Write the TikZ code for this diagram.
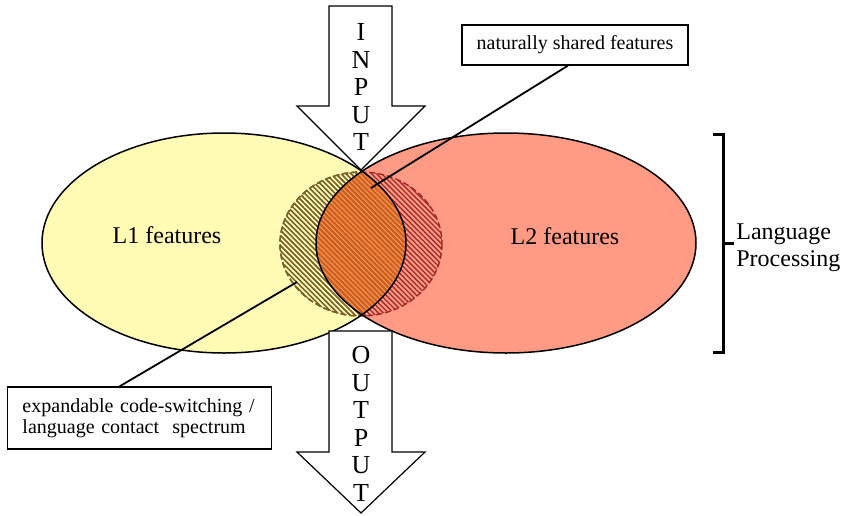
\documentclass[tikz,border=0pt]{standalone}
\usepackage{fontspec}
\setmainfont{Liberation Serif}
\usepackage{tikz}
\usetikzlibrary{patterns.meta}
\definecolor{lOneYellow}{RGB}{255,250,180}
\definecolor{lTwoRed}{RGB}{255,154,132}
\definecolor{lensOrange}{RGB}{246,138,66}
\definecolor{hatchOlive}{RGB}{110,105,40}
\definecolor{hatchRed}{RGB}{160,40,40}
\definecolor{hatchOrange}{RGB}{215,95,32}

\begin{document}
\begin{tikzpicture}[x=0.5pt,y=-0.5pt,
    outline/.style={draw=black,line width=0.75pt},
    hatch/.style={pattern={Lines[angle=-45,distance=1.8pt,line width=0.65pt]}},
    dashrim/.style={dash pattern=on 3pt off 1.5pt,line width=0.7pt},
    bigarrow/.style={draw=black,fill=white,line width=0.6pt},
    callout/.style={draw=black,fill=white,line width=0.7pt,font=\fontsize{10}{10.5}\selectfont},
    arrowtext/.style={align=center,inner sep=0pt,font=\fontsize{13}{13.75}\selectfont},
    feat/.style={anchor=base,font=\fontsize{12}{14}\selectfont}]
      \useasboundingbox (0,0) rectangle (842,515);
      \fill[lOneYellow] (224,243) ellipse (182 and 110);
      \fill[lTwoRed] (506,243) ellipse (190 and 110);
      \begin{scope}
        \clip (224,243) ellipse (182 and 110);
        \fill[lensOrange] (506,243) ellipse (190 and 110);
      \end{scope}
      \fill[hatch,pattern color=hatchRed] (361,244) ellipse (81 and 72);
      \draw[dashrim,hatchRed] (361,244) ellipse (81 and 72);
      \begin{scope}
        \clip (224,243) ellipse (182 and 110);
        \fill[hatch,pattern color=hatchOlive] (361,244) ellipse (81 and 72);
        \draw[dashrim,hatchOlive] (361,244) ellipse (81 and 72);
        \clip (506,243) ellipse (190 and 110);
        \fill[hatch,pattern color=hatchOrange] (361,244) ellipse (81 and 72);
      \end{scope}
      \draw[outline] (224,243) ellipse (182 and 110);
      \draw[outline] (506,243) ellipse (190 and 110);
      \node[feat] (lone) at (167,243) {L1 features};
      \node[feat] (ltwo) at (565,244) {L2 features};
      \draw[bigarrow] (329,6) -- (392,6) -- (392,106) -- (425,106) -- (361,170)
        -- (297,106) -- (329,106) -- cycle;
      \node[arrowtext] (input) at (361,87) {I\\N\\P\\U\\T};
      \draw[bigarrow] (329,331) -- (392,331) -- (392,452) -- (425,452) -- (361,513)
        -- (297,452) -- (329,452) -- cycle;
      \node[arrowtext] (output) at (361,424) {O\\U\\T\\P\\U\\T};
      \node[callout,minimum width=113pt,minimum height=20pt] (shared) at (575,45)
        {naturally shared features};
      \coordinate (sharedpt) at (371,188);
      \draw[line width=0.9pt] (shared.251) -- (sharedpt);
      \node[callout,text width=117pt,align=left,inner xsep=7.5pt,minimum height=31pt]
        (spectrum) at (139.5,418) {expandable code-switching /\\language contact~ spectrum};
      \coordinate (spectrumpt) at (297,282);
      \draw[line width=0.9pt] (spectrum.122) -- (spectrumpt);
      \draw[line width=1.5pt] (713,134) -- (723,134) -- (723,352) -- (713,352);
      \draw[line width=1.5pt] (723,243) -- (734,243);
      \node[anchor=west,align=left,inner sep=0pt,font=\fontsize{12}{13.5}\selectfont]
        (langproc) at (736,248) {Language\\Processing};
    \end{tikzpicture}
\end{document}
